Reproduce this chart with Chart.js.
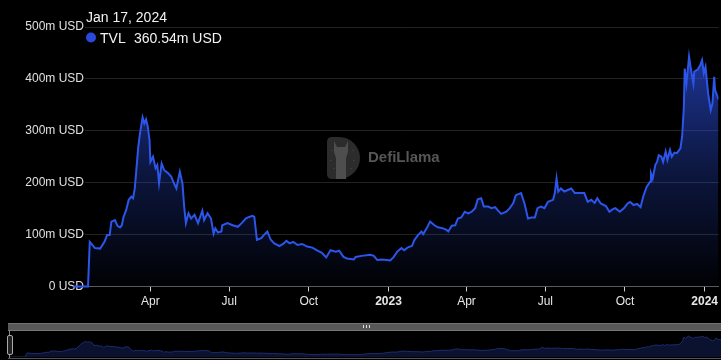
<!DOCTYPE html>
<html>
<head>
<meta charset="utf-8">
<script src="https://cdn.jsdelivr.net/npm/chart.js@4.4.1/dist/chart.umd.min.js"></script>
<style>
  html, body { margin: 0; padding: 0; background: #000; width: 721px; height: 360px; overflow: hidden; }
  #wrap { position: relative; width: 721px; height: 360px; background: #000; }
  #main { position: absolute; left: 0; top: 0; }
  #bar { position: absolute; left: 8px; top: 323px; width: 713px; height: 6px; background: #585858; border-top: 1px solid #707070; }
  #grip { position: absolute; left: 355px; top: 1px; width: 5px; height: 3px;
          border-left: 1px solid #ddd; border-right: 1px solid #ddd; }
  #grip::after { content: ""; position: absolute; left: 2px; top: 0; width: 1px; height: 3px; background: #ddd; }
  #miniBox { position: absolute; left: 8px; top: 330px; width: 713px; height: 27px;
             border-top: 1px solid #777; border-bottom: 1px solid #555; }
  #mini { position: absolute; left: 8px; top: 331px; }
  #edge { position: absolute; left: 9px; top: 330px; width: 1px; height: 28px; background: #888; }
  #handle { position: absolute; left: 7px; top: 335px; width: 4px; height: 18px; background: #222;
            border: 1px solid #aaa; border-radius: 2px; }
</style>
</head>
<body>
<div id="wrap">
  <canvas id="main" width="721" height="320"></canvas>
  <div id="bar"><div id="grip"></div></div>
  <div id="miniBox"></div>
  <canvas id="mini" width="713" height="26"></canvas>
  <div id="edge"></div>
  <div id="handle"></div>
</div>
<script>
// ---- data (days since 2022-01-01, TVL in millions USD) ----
const dayIndex = [1,18,20,26,32,37,40,43,45,49,
  52,55,57,59,62,65,68,70,72,76,
  78,81,83,85,87,89,90,93,96,98,
  100,103,106,110,114,118,120,124,127,129,
  131,134,137,141,145,150,152,156,160,163,
  165,168,172,173,179,185,191,196,200,204,
  208,210,213,218,221,225,229,233,239,244,
  247,251,255,260,265,271,277,283,288,293,
  298,304,308,313,317,325,327,334,344,348,
  352,357,363,367,371,375,380,383,388,392,
  395,399,403,405,409,413,418,422,428,432,
  434,438,442,445,449,453,457,461,465,468,
  472,475,480,484,488,491,495,501,505,509,
  512,518,522,526,530,534,537,541,545,549,
  555,557,559,561,564,568,572,576,580,585,
  591,595,599,603,606,610,616,620,624,627,
  632,637,641,644,648,652,656,659,663,667,
  668,670,673,675,677,680,682,685,687,690,
  692,695,698,702,704,706,707,709,712,714,
  717,718,722,725,727,729,731,734,737,739,
  741,742,746];
const tvlMillions = [0,0,86,74,73,86,99,99,125,128,
  117,114,118,134,147,167,173,170,189,269,
  295,326,314,322,308,282,240,250,228,234,
  199,237,224,219,212,196,189,221,199,154,
  122,141,131,138,122,146,128,141,131,102,
  112,104,106,118,122,118,115,123,131,134,
  136,134,90,93,99,106,90,83,78,83,
  88,83,86,80,82,77,75,69,65,56,
  70,67,69,57,54,52,57,59,61,59,
  51,52,51,50,57,67,74,70,76,78,
  90,99,106,101,112,125,118,114,112,109,
  106,117,118,131,133,144,141,144,151,168,
  170,154,154,151,153,147,140,144,151,161,
  176,180,160,131,133,133,151,154,151,163,
  167,180,208,183,189,183,186,189,180,180,
  180,163,167,161,170,160,155,144,149,151,
  144,151,160,163,157,159,153,173,192,202,
  218,208,234,240,253,250,240,260,244,263,
  250,258,257,266,289,346,420,391,443,420,
  391,414,418,427,436,411,423,372,340,353,
  404,379,360.54];
const xTickDays = [90, 181, 273, 365, 455, 546, 638, 730];
const xTickLabels = ['Apr', 'Jul', 'Oct', '2023', 'Apr', 'Jul', 'Oct', '2024'];
const yTickValues = [0, 100, 200, 300, 400, 500];
const seriesName = 'TVL';

// ---- helpers ----
const points = dayIndex.map((d, i) => ({ x: d, y: tvlMillions[i] }));
const fmtUsd = v => v === 0 ? '0 USD' : v + 'm USD';
const lastDay = dayIndex[dayIndex.length - 1];
const lastVal = tvlMillions[tvlMillions.length - 1];
const lastDate = new Date(Date.UTC(2022, 0, 1) + lastDay * 86400000)
  .toLocaleDateString('en-US', { month: 'short', day: 'numeric', year: 'numeric', timeZone: 'UTC' });
const maxVal = Math.max(...tvlMillions);
const FONT = '"Liberation Sans", Arial, Helvetica, sans-serif';
const LINE = '#2c55ea';

const headerPlugin = {
  id: 'header',
  afterDraw(chart) {
    const ctx = chart.ctx;
    ctx.save();
    ctx.font = '14px ' + FONT;
    ctx.fillStyle = '#f2f2f2';
    ctx.textBaseline = 'alphabetic';
    ctx.textAlign = 'left';
    ctx.fillText(lastDate, 86, 21.5);
    ctx.beginPath();
    ctx.arc(91, 37.5, 5, 0, Math.PI * 2);
    ctx.fillStyle = '#2b48dc';
    ctx.fill();
    ctx.fillStyle = '#f2f2f2';
    ctx.fillText(seriesName, 100, 42.5);
    ctx.fillText(lastVal.toFixed(2) + 'm USD', 134, 42.5);
    ctx.restore();
  }
};

const watermarkPlugin = {
  id: 'watermark',
  beforeDatasetsDraw(chart) {
    const ctx = chart.ctx;
    ctx.save();
    ctx.fillStyle = '#2c2c2c';
    ctx.beginPath();
    ctx.moveTo(332, 137);
    ctx.lineTo(339, 137);
    ctx.arc(339, 158, 21, -Math.PI / 2, Math.PI / 2);
    ctx.lineTo(332, 179);
    ctx.quadraticCurveTo(327, 179, 327, 174);
    ctx.lineTo(327, 142);
    ctx.quadraticCurveTo(327, 137, 332, 137);
    ctx.fill();
    ctx.fillStyle = '#4e4e4e';
    ctx.beginPath();
    ctx.moveTo(334, 141); ctx.lineTo(337, 147); ctx.lineTo(345, 147); ctx.lineTo(348, 141);
    ctx.lineTo(348, 152); ctx.lineTo(346, 158); ctx.lineTo(346, 179); ctx.lineTo(336, 179);
    ctx.lineTo(336, 158); ctx.lineTo(334, 152); ctx.closePath();
    ctx.fill();
    ctx.fillStyle = '#3c3c3c';
    [[331,150],[330,160],[352,150],[353,160],[333,168],[350,168]].forEach(p => {
      ctx.fillRect(p[0], p[1], 2, 1);
    });
    ctx.font = 'bold 15px ' + FONT;
    ctx.fillStyle = '#565656';
    ctx.textBaseline = 'middle';
    ctx.fillText('DefiLlama', 368, 158);
    ctx.restore();
  }
};

function areaGradient(context) {
  const chart = context.chart;
  const area = chart.chartArea;
  if (!area) return 'rgba(44,85,234,0.3)';
  const top = chart.scales.y.getPixelForValue(maxVal);
  const g = chart.ctx.createLinearGradient(0, top, 0, area.bottom);
  g.addColorStop(0, 'rgba(44,80,225,0.66)');
  g.addColorStop(0.5, 'rgba(44,80,225,0.28)');
  g.addColorStop(1, 'rgba(44,80,225,0.02)');
  return g;
}

new Chart(document.getElementById('main'), {
  type: 'line',
  data: {
    datasets: [{
      label: seriesName,
      data: points,
      borderColor: LINE,
      borderWidth: 2,
      pointRadius: 0,
      tension: 0,
      fill: 'origin',
      backgroundColor: areaGradient,
      clip: { left: 14, top: 5, right: 0, bottom: 5 }
    }]
  },
  options: {
    responsive: false,
    animation: false,
    events: [],
    layout: { padding: { top: 27, left: 0, right: 0, bottom: 0 }, autoPadding: false },
    plugins: { legend: { display: false }, tooltip: { enabled: false } },
    scales: {
      x: {
        type: 'linear',
        min: 14.5,
        max: lastDay,
        afterBuildTicks: s => { s.ticks = xTickDays.map(v => ({ value: v })); },
        afterFit: s => { s.height = 33.5; },
        ticks: {
          autoSkip: false,
          maxRotation: 0,
          padding: 3,
          color: '#e6e6e6',
          font: c => ({ family: FONT, size: 12, weight: (c.tick && c.index !== undefined && /^\d{4}$/.test(xTickLabels[c.index])) ? 'bold' : 'normal' }),
          callback: (v, i) => xTickLabels[i]
        },
        grid: { display: true, drawOnChartArea: false, drawTicks: true, tickLength: 5, color: '#cfcfcf', tickColor: '#cfcfcf' },
        border: { display: true, color: '#5a5a5a', width: 1 }
      },
      y: {
        type: 'linear',
        min: 0,
        max: 500,
        afterBuildTicks: s => { s.ticks = yTickValues.map(v => ({ value: v })); },
        afterFit: s => { s.width = 85; },
        ticks: {
          padding: 1,
          color: '#e0e0e0',
          font: { family: FONT, size: 12 },
          callback: v => fmtUsd(v)
        },
        grid: { color: '#222222', drawTicks: false },
        border: { display: false }
      }
    }
  },
  plugins: [watermarkPlugin, headerPlugin]
});

new Chart(document.getElementById('mini'), {
  type: 'line',
  data: {
    datasets: [{
      data: points,
      borderColor: '#1c2c6c',
      borderWidth: 1,
      pointRadius: 0,
      tension: 0,
      fill: 'origin',
      backgroundColor: '#0a1230'
    }]
  },
  options: {
    responsive: false,
    animation: false,
    events: [],
    layout: { padding: 0, autoPadding: false },
    plugins: { legend: { display: false }, tooltip: { enabled: false } },
    scales: {
      x: { type: 'linear', display: false, min: 0, max: lastDay },
      y: { type: 'linear', display: false, min: 0, max: 550 }
    }
  }
});
</script>
</body>
</html>
